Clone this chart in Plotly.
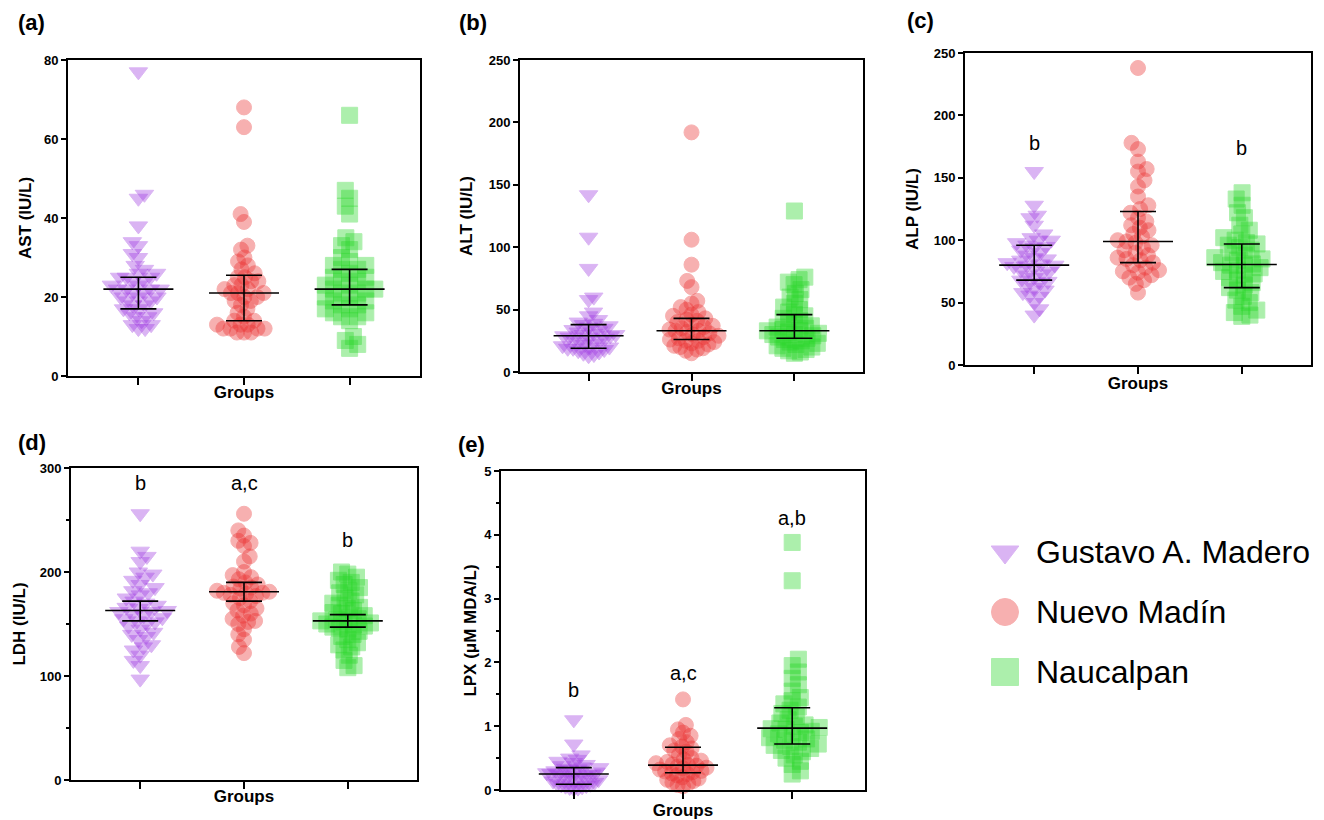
import numpy as np
import plotly.graph_objects as go

W, H = 1324, 820
groups = ["Gustavo A. Madero", "Nuevo Madín", "Naucalpan"]

# ---------------- data ----------------
ast_gam = [77, 46, 45, 38, 34, 33, 31, 30, 28, 27, 26, 26, 25, 25, 25, 24, 24, 23, 23, 22, 22, 22,
           22, 21, 21, 20, 20, 20, 19, 19, 18, 18, 17, 17, 16, 16, 15, 15, 14, 13, 13, 12, 12]
ast_nm = [68, 63, 41, 39, 33, 32, 30, 29, 28, 27, 26, 25, 25, 24, 24, 23, 23, 22, 22, 21, 21, 21,
          20, 20, 19, 19, 18, 17, 16, 15, 14, 14, 13, 13, 13, 12, 12, 12, 12, 11, 11, 11]
ast_nau = [66, 47, 45, 43, 41, 35, 34, 33, 32, 30, 29, 28, 28, 27, 27, 26, 25, 25, 24, 24, 23, 23,
           22, 22, 22, 21, 21, 20, 20, 19, 19, 18, 18, 17, 17, 16, 16, 15, 15, 14, 10, 9, 8, 7]
ast_median = [22, 21, 22]
ast_q1 = [17, 14, 18]
ast_q3 = [25, 25.5, 27]

alt_gam = [142, 108, 83, 60, 58, 48, 45, 42, 40, 39, 38, 37, 36, 35, 34, 33, 32, 31, 30, 30, 29,
           29, 28, 28, 27, 26, 25, 24, 23, 22, 21, 20, 20, 19, 19, 18, 17, 16, 15, 14, 13]
alt_nm = [192, 106, 86, 73, 68, 57, 55, 52, 50, 48, 46, 45, 43, 42, 41, 40, 38, 37, 36, 35, 34,
          33, 33, 32, 31, 30, 29, 28, 27, 26, 25, 25, 24, 23, 22, 21, 20, 19, 18, 17, 15]
alt_nau = [129, 76, 74, 72, 70, 66, 63, 60, 58, 55, 52, 50, 48, 46, 45, 43, 41, 40, 38, 37, 36,
           35, 34, 33, 33, 32, 31, 30, 30, 29, 28, 27, 26, 25, 24, 23, 22, 21, 20, 19, 18, 17, 16, 15]
alt_median = [29, 33, 33]
alt_q1 = [19, 26, 27]
alt_q3 = [38, 43, 46]

alp_gam = [155, 128, 120, 118, 112, 105, 102, 100, 100, 98, 96, 95, 94, 92, 90, 88, 86, 85, 84,
           82, 81, 80, 80, 79, 78, 76, 75, 73, 72, 70, 68, 67, 66, 64, 62, 60, 58, 56, 55, 50, 45, 40]
alp_nm = [238, 178, 173, 163, 157, 155, 148, 143, 135, 128, 125, 122, 118, 115, 112, 110, 108,
          105, 103, 100, 99, 98, 96, 94, 92, 90, 88, 86, 85, 84, 82, 80, 78, 76, 75, 74, 72, 70,
          68, 65, 58]
alp_nau = [138, 133, 128, 122, 118, 112, 108, 105, 102, 100, 98, 97, 96, 94, 92, 90, 88, 86, 85,
           84, 82, 81, 80, 80, 78, 76, 75, 73, 72, 70, 68, 66, 64, 62, 60, 58, 55, 52, 50, 47, 44,
           42, 40, 39]
alp_median = [80, 99, 80.5]
alp_q1 = [68, 82, 62]
alp_q3 = [96, 123, 97]

ldh_gam = [256, 220, 215, 210, 200, 198, 195, 192, 188, 185, 182, 180, 178, 175, 172, 170, 168,
           166, 165, 163, 162, 162, 160, 158, 156, 155, 153, 152, 150, 148, 145, 142, 140, 138,
           135, 130, 128, 125, 120, 115, 110, 97]
ldh_nm = [256, 240, 235, 230, 228, 225, 215, 210, 200, 197, 195, 193, 190, 188, 186, 185, 184,
          182, 181, 180, 180, 179, 178, 177, 175, 172, 170, 168, 165, 163, 160, 158, 155, 153,
          152, 150, 145, 140, 135, 128, 122]
ldh_nau = [200, 198, 195, 192, 190, 188, 185, 182, 180, 178, 175, 172, 170, 168, 166, 165, 163,
           161, 160, 158, 156, 155, 154, 153, 152, 151, 150, 149, 148, 147, 146, 145, 143, 140,
           138, 135, 132, 130, 128, 125, 120, 115, 110, 108]
ldh_median = [163, 181, 153]
ldh_q1 = [153, 172, 147]
ldh_q3 = [172, 190, 159]

lpx_gam = [1.1, 0.72, 0.55, 0.5, 0.48, 0.45, 0.43, 0.4, 0.38, 0.36, 0.35, 0.34, 0.33, 0.32, 0.3,
           0.29, 0.28, 0.27, 0.26, 0.25, 0.25, 0.24, 0.23, 0.22, 0.2, 0.19, 0.18, 0.16, 0.15, 0.14,
           0.12, 0.1, 0.09, 0.08, 0.07, 0.06, 0.05, 0.04, 0.03, 0.02]
lpx_nm = [1.42, 1.02, 0.95, 0.9, 0.85, 0.8, 0.75, 0.7, 0.68, 0.65, 0.62, 0.6, 0.55, 0.5, 0.48,
          0.46, 0.44, 0.42, 0.4, 0.39, 0.38, 0.37, 0.35, 0.34, 0.32, 0.3, 0.29, 0.28, 0.26, 0.25,
          0.23, 0.2, 0.18, 0.16, 0.14, 0.12, 0.1, 0.08, 0.06]
lpx_nau = [3.88, 3.28, 2.05, 1.95, 1.85, 1.75, 1.65, 1.55, 1.45, 1.4, 1.35, 1.3, 1.25, 1.2, 1.15,
           1.1, 1.05, 1.02, 1.0, 0.98, 0.96, 0.95, 0.92, 0.9, 0.88, 0.85, 0.82, 0.8, 0.78, 0.75,
           0.72, 0.7, 0.68, 0.65, 0.62, 0.6, 0.55, 0.5, 0.45, 0.4, 0.3, 0.25]
lpx_median = [0.25, 0.39, 0.97]
lpx_q1 = [0.09, 0.27, 0.72]
lpx_q3 = [0.35, 0.67, 1.29]

# significance letters: (group index, text, y position in data units)
alp_letters = [(0, "b", 178), (2, "b", 174)]
ldh_letters = [(0, "b", 286), (1, "a,c", 286), (2, "b", 231)]
lpx_letters = [(0, "b", 1.57), (1, "a,c", 1.84), (2, "a,b", 4.27)]

# ---------------- styling ----------------
FONT = "Liberation Sans, Arial, sans-serif"
base_colors = ["rgb(160,60,226)", "rgb(235,50,50)", "rgb(40,215,40)"]
symbols = ["triangle-down", "circle", "square"]
sizes = [16, 15, 16]
OPA = 0.38
MAX_OFF = 27  # px: maximum horizontal half-spread of a column scatter

panels = [
    dict(tag="(a)", ytitle="AST (IU/L)", yr=[0, 80], dtick=20, minor=None,
         data=[ast_gam, ast_nm, ast_nau], med=ast_median, q1=ast_q1, q3=ast_q3,
         px=(60, 412, 52, 368), letters=[], tagpos=(8, 14), ystand=8, xstand=0),
    dict(tag="(b)", ytitle="ALT (IU/L)", yr=[0, 250], dtick=50, minor=None,
         data=[alt_gam, alt_nm, alt_nau], med=alt_median, q1=alt_q1, q3=alt_q3,
         px=(512, 855, 52, 364), letters=[], tagpos=(449, 14), ystand=12, xstand=0),
    dict(tag="(c)", ytitle="ALP (IU/L)", yr=[0, 250], dtick=50, minor=None,
         data=[alp_gam, alp_nm, alp_nau], med=alp_median, q1=alp_q1, q3=alp_q3,
         px=(957, 1303, 45, 357), letters=alp_letters, tagpos=(897, 12), ystand=11, xstand=2),
    dict(tag="(d)", ytitle="LDH (IU/L)", yr=[0, 300], dtick=100, minor=50,
         data=[ldh_gam, ldh_nm, ldh_nau], med=ldh_median, q1=ldh_q1, q3=ldh_q3,
         px=(63, 409, 460, 772), letters=ldh_letters, tagpos=(8, 434), ystand=10, xstand=0),
    dict(tag="(e)", ytitle="LPX (\u03bcM MDA/L)", yr=[0, 5], dtick=1, minor=0.5,
         data=[lpx_gam, lpx_nm, lpx_nau], med=lpx_median, q1=lpx_q1, q3=lpx_q3,
         px=(493, 857, 463, 782), letters=lpx_letters, tagpos=(448, 436), ystand=3, xstand=4),
]

XR = [1 - 2 / 3, 3 + 2 / 3]


def swarm(vals, px_per_unit, D, flip_seed=0):
    """Simple beeswarm layout: returns pixel x-offsets for each value."""
    ys = np.asarray(vals, float) * px_per_unit
    order = np.argsort(ys, kind="stable")
    xs = np.zeros(len(ys))
    placed = []
    for k, i in enumerate(order):
        y = ys[i]
        neigh = [(px, py) for px, py in placed if abs(py - y) < D]
        cands = [0.0]
        for px, py in neigh:
            dx = np.sqrt(max(D ** 2 - (py - y) ** 2, 0))
            cands += [px - dx - 1e-6, px + dx + 1e-6]
        sgn = 1 if (k + flip_seed) % 2 == 0 else -1
        cands.sort(key=lambda c: (round(abs(c), 6), sgn * c))
        for c in cands:
            if all((c - px) ** 2 + (y - py) ** 2 >= D ** 2 - 1e-4 for px, py in neigh):
                xs[i] = c
                break
        placed.append((xs[i], y))
    m = np.max(np.abs(xs))
    if m > MAX_OFF:
        xs = xs * (MAX_OFF / m)
    return xs


fig = go.Figure()
layout = dict(
    width=W, height=H, paper_bgcolor="white", plot_bgcolor="white",
    margin=dict(l=0, r=0, t=0, b=0), showlegend=False,
    font=dict(family=FONT, color="black"),
)
annotations = []

for pi, p in enumerate(panels):
    n = pi + 1
    xa = "x" if n == 1 else f"x{n}"
    ya = "y" if n == 1 else f"y{n}"
    x0, x1, y0, y1 = p["px"]
    wpx, hpx = x1 - x0, y1 - y0
    ppu_x = wpx / (XR[1] - XR[0])
    ppu_y = hpx / (p["yr"][1] - p["yr"][0])

    for g in range(3):
        vals = p["data"][g]
        offs = swarm(vals, ppu_y, 9.0, flip_seed=g) / ppu_x
        xs = (g + 1) + offs
        fig.add_trace(go.Scatter(
            x=xs, y=vals, mode="markers", xaxis=xa, yaxis=ya, name=groups[g],
            cliponaxis=False, hoverinfo="y",
            marker=dict(symbol=symbols[g], size=sizes[g], color=base_colors[g], opacity=OPA,
                        line=dict(color=base_colors[g], width=1)),
        ))
    med = np.array(p["med"], float)
    q1 = np.array(p["q1"], float)
    q3 = np.array(p["q3"], float)
    fig.add_trace(go.Scatter(
        x=[1, 2, 3], y=med, mode="markers", xaxis=xa, yaxis=ya, cliponaxis=False,
        marker=dict(symbol="line-ew", size=50, color="black", line=dict(color="black", width=1.6)),
        error_y=dict(type="data", symmetric=False, array=q3 - med, arrayminus=med - q1,
                     width=18, thickness=1.6, color="black"),
        hoverinfo="y", name="median (IQR)",
    ))

    ax_common = dict(showline=True, linecolor="black", linewidth=2, mirror=True,
                     showgrid=False, zeroline=False, automargin=False)
    layout["xaxis" if n == 1 else f"xaxis{n}"] = dict(
        domain=[x0 / W, x1 / W], range=XR, anchor=ya,
        tickmode="array", tickvals=[1, 2, 3], ticktext=["", "", ""],
        ticks="outside", ticklen=7, tickwidth=2, tickcolor="black",
        title=dict(text="<b>Groups</b>", font=dict(size=17, family=FONT), standoff=p["xstand"]),
        **ax_common)
    yax = dict(
        domain=[1 - y1 / H, 1 - y0 / H], range=p["yr"], anchor=xa,
        tickmode="linear", tick0=0, dtick=p["dtick"],
        ticks="outside", ticklen=5, tickwidth=2, tickcolor="black",
        tickfont=dict(size=13, family=FONT, weight="bold"),
        title=dict(text=f"<b>{p['ytitle']}</b>", font=dict(size=17, family=FONT),
                   standoff=p["ystand"]),
        **ax_common)
    if p["minor"]:
        yax["minor"] = dict(ticks="outside", dtick=p["minor"], ticklen=3, tickwidth=1.5,
                            tickcolor="black", showgrid=False)
    layout["yaxis" if n == 1 else f"yaxis{n}"] = yax

    # panel tag
    annotations.append(dict(text=f"<b>{p['tag']}</b>", xref="paper", yref="paper",
                            x=p["tagpos"][0] / W, y=1 - p["tagpos"][1] / H,
                            xanchor="left", yanchor="middle", showarrow=False,
                            font=dict(size=22, family=FONT)))
    for g, txt, yv in p["letters"]:
        annotations.append(dict(text=txt, xref=xa, yref=ya, x=g + 1, y=yv,
                                xanchor="center", yanchor="middle", showarrow=False,
                                font=dict(size=20, family=FONT)))

# ---------------- legend (drawn in a hidden axis, pixel-unit x range) ----------------
legend_idx = [0, 1, 2]
fig.add_trace(go.Scatter(
    x=[37, 37, 37], y=legend_idx, mode="markers", xaxis="x6", yaxis="y6",
    hoverinfo="skip", cliponaxis=False,
    marker=dict(symbol=symbols, size=[24, 27, 27], color=base_colors, opacity=OPA,
                line=dict(color=base_colors, width=1)),
))
for i, g in zip(legend_idx, groups):
    annotations.append(dict(text=g, xref="x6", yref="y6", x=66, y=i, xanchor="left",
                            yanchor="middle", showarrow=False,
                            font=dict(size=32, family=FONT, color="black")))
layout["xaxis6"] = dict(domain=[960 / W, 1324 / W], range=[0, 364], visible=False, anchor="y6")
layout["yaxis6"] = dict(domain=[1 - 694 / H, 1 - 514 / H], range=[2.5, -0.5], visible=False,
                        anchor="x6")
layout["annotations"] = annotations
fig.update_layout(**layout)
fig.write_html("out.html")
